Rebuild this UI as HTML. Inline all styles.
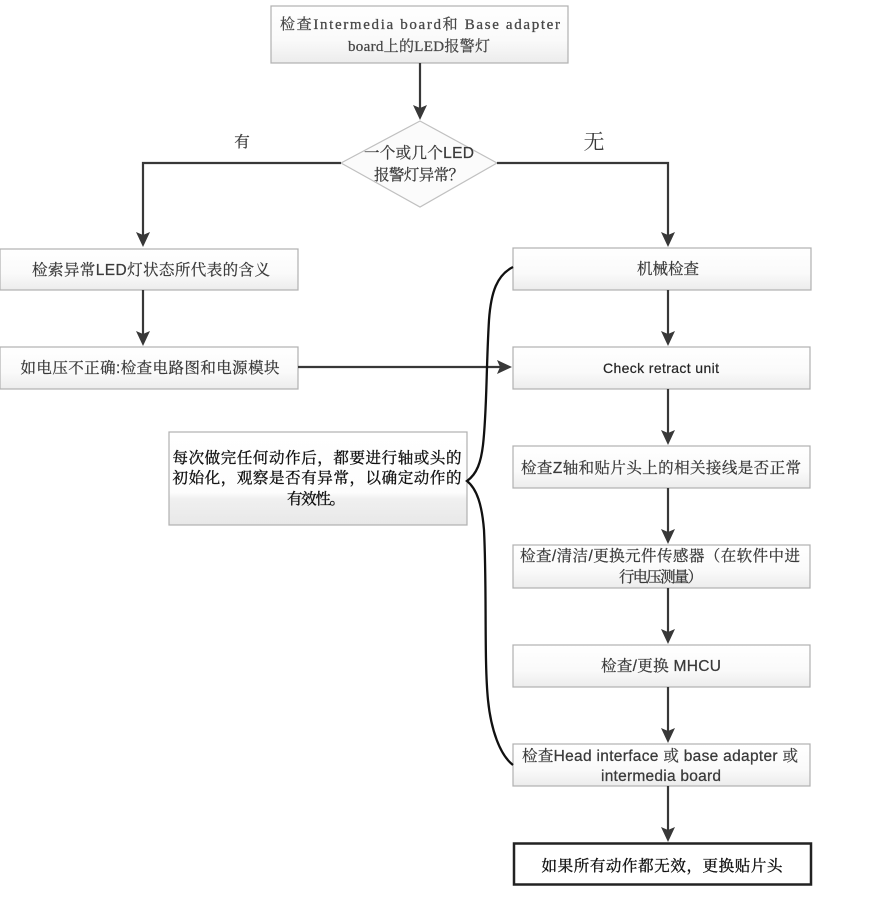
<!DOCTYPE html>
<html><head><meta charset="utf-8"><style>
html,body{margin:0;padding:0;background:#fff;width:879px;height:897px;overflow:hidden}
svg{display:block}
text{font-family:"Liberation Sans","Noto Serif CJK SC",serif;font-size:15.5px;fill:#3a3a3a;text-anchor:middle;stroke:#3a3a3a;stroke-width:.25px}
.m{font-family:"Liberation Serif","Noto Serif CJK SC",serif;fill:#4a4a4a;font-size:15px}
.k{fill:#111;stroke:#111;stroke-width:.35px}
.s{font-family:"Liberation Sans","Noto Sans CJK SC",sans-serif;fill:#222}
</style></head><body>
<svg width="879" height="897" viewBox="0 0 879 897" xmlns="http://www.w3.org/2000/svg">
<defs>
<linearGradient id="g" x1="0" y1="0" x2="0" y2="1"><stop offset="0" stop-color="#fff"/><stop offset=".6" stop-color="#fafafa"/><stop offset="1" stop-color="#ececec"/></linearGradient>
<linearGradient id="n" x1="0" y1="0" x2="0" y2="1"><stop offset="0" stop-color="#fff"/><stop offset=".65" stop-color="#fdfdfd"/><stop offset=".72" stop-color="#f0f0f0"/><stop offset="1" stop-color="#e8e8e8"/></linearGradient>
</defs>
<g fill="url(#g)" stroke="#b0b0b0" stroke-width="1.2">
<rect x="271" y="6" width="297" height="57"/>
<polygon points="341,163 420,121 497,163 420,207" stroke="#c0c0c0" fill="#fbfbfb"/>
<rect x="0" y="249" width="298" height="41"/>
<rect x="0" y="347" width="298" height="42"/>
<rect x="513" y="248" width="298" height="42"/>
<rect x="513" y="347" width="297" height="42"/>
<rect x="513" y="446" width="297" height="42"/>
<rect x="513" y="545" width="297" height="43"/>
<rect x="513" y="645" width="297" height="42"/>
<rect x="513" y="744" width="297" height="42"/>
<rect x="169" y="432" width="298" height="93" fill="url(#n)"/>
</g>
<rect x="514" y="843.500" width="297" height="41" fill="#fff" stroke="#222" stroke-width="2.5"/>

<g fill="none" stroke="#383838" stroke-width="2.2">
<path d="M420 63V110"/>
<path d="M341 163H143V236"/>
<path d="M497 163H668V236"/>
<path d="M143 290V335"/>
<path d="M298 367H500"/>
<path d="M668 290V335"/>
<path d="M668 389V434"/>
<path d="M668 488V533"/>
<path d="M668 588V633"/>
<path d="M668 687V732"/>
<path d="M668 786V831"/>
</g>
<g fill="#383838">
<polygon points="413,105 420,108 427,105 420,120"/>
<polygon points="136,232 143,235 150,232 143,247"/>
<polygon points="661,232 668,235 675,232 668,247"/>
<polygon points="136,331 143,334 150,331 143,346"/>
<polygon points="497,360 500,367 497,374 512,367"/>
<polygon points="661,331 668,334 675,331 668,346"/>
<polygon points="661,430 668,433 675,430 668,445"/>
<polygon points="661,529 668,532 675,529 668,544"/>
<polygon points="661,629 668,632 675,629 668,644"/>
<polygon points="661,728 668,731 675,728 668,743"/>
<polygon points="661,827 668,830 675,827 668,842"/>
</g>
<path d="M513 267C497 275 491 292 489 320C486 370 487 410 483 445C481 462 477 474 467 481C477 489 482 505 484 530C487 590 484 660 488 700C491 730 500 755 513 765" fill="none" stroke="#111" stroke-width="2.3"/>

<text class="m" x="420" y="29" textLength="280" lengthAdjust="spacing">检查Intermedia board和 Base adapter</text>
<text class="m" x="419" y="51" textLength="142" lengthAdjust="spacing">board上的LED报警灯</text>
<text x="419" y="158" textLength="110" lengthAdjust="spacing">一个或几个LED</text>
<text x="419" y="180" textLength="90" lengthAdjust="spacing" style="font-family:'Noto Serif CJK SC',serif">报警灯异常？</text>
<text x="242" y="147">有</text>
<text x="594" y="149" style="font-size:21px;stroke-width:0">无</text>
<text x="151" y="275" textLength="238" lengthAdjust="spacing">检索异常LED灯状态所代表的含义</text>
<text x="150" y="373" textLength="259" lengthAdjust="spacing">如电压不正确:检查电路图和电源模块</text>
<text x="668" y="274" textLength="62" lengthAdjust="spacing">机械检查</text>
<text class="s" x="661" y="373" textLength="116" lengthAdjust="spacing" style="font-size:14px">Check retract unit</text>
<text x="661" y="473" textLength="280" lengthAdjust="spacing">检查Z轴和贴片头上的相关接线是否正常</text>
<text x="660" y="561" textLength="280" lengthAdjust="spacing">检查/清洁/更换元件传感器（在软件中进</text>
<text x="661" y="582" textLength="84" lengthAdjust="spacing" style="font-family:'Noto Serif CJK SC',serif">行电压测量）</text>
<text x="661" y="671" textLength="120" lengthAdjust="spacing">检查/更换 MHCU</text>
<text x="660" y="761" textLength="276" lengthAdjust="spacing">检查Head interface 或 base adapter 或</text>
<text x="661" y="781" textLength="120" lengthAdjust="spacing">intermedia board</text>
<text class="k" x="662" y="871" textLength="241" lengthAdjust="spacing">如果所有动作都无效，更换贴片头</text>
<text class="k" x="317" y="463" textLength="289" lengthAdjust="spacing">每次做完任何动作后，都要进行轴或头的</text>
<text class="k" x="317" y="483" textLength="289" lengthAdjust="spacing">初始化，观察是否有异常，以确定动作的</text>
<text class="k" x="316" y="504" textLength="58" lengthAdjust="spacing">有效性。</text>
</svg>
</body></html>
